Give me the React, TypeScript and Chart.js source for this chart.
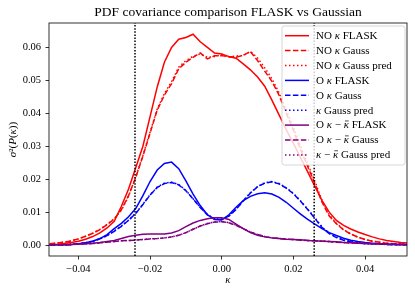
import React, { useEffect, useRef } from "react";
import { Chart, registerables } from "chart.js";

Chart.register(...registerables);

const chartTitle = "PDF covariance comparison FLASK vs Gaussian";
const xTicks = [-0.04, -0.02, 0.0, 0.02, 0.04];
const yTicks = [0.0, 0.01, 0.02, 0.03, 0.04, 0.05, 0.06];
const xRange = [-0.0482, 0.0517];
const yRange = [-0.0033, 0.0674];
const verticalLines = [-0.0242, 0.0258];

const kappa = [
  -0.048, -0.046, -0.044, -0.042, -0.04, -0.038, -0.036, -0.034, -0.032, -0.03,
  -0.028, -0.026, -0.024, -0.022, -0.02, -0.018, -0.016, -0.014, -0.012, -0.01,
  -0.008, -0.006, -0.004, -0.002, 0.0, 0.002, 0.004, 0.006, 0.008, 0.01,
  0.012, 0.014, 0.016, 0.018, 0.02, 0.022, 0.024, 0.026, 0.028, 0.03,
  0.032, 0.034, 0.036, 0.038, 0.04, 0.042, 0.044, 0.046, 0.048, 0.05,
  0.052,
];

const noFlask = [
  0.0002, 0.0003, 0.0005, 0.0008, 0.0012, 0.0018, 0.0026, 0.0037, 0.0052, 0.0072,
  0.0118, 0.0170, 0.0235, 0.0300, 0.0390, 0.0480, 0.0555, 0.0600, 0.0625, 0.0630,
  0.0640, 0.0617, 0.0600, 0.0583, 0.0580, 0.0572, 0.0567, 0.0550, 0.0532, 0.0510,
  0.0482, 0.0440, 0.0395, 0.0350, 0.0309, 0.0265, 0.0222, 0.0178, 0.0135, 0.0100,
  0.0075, 0.0060, 0.0049, 0.0040, 0.0032, 0.0025, 0.0019, 0.0014, 0.0011, 0.0008,
  0.0006,
];
const noGauss = [
  0.0004, 0.0006, 0.0009, 0.0013, 0.0019, 0.0027, 0.0036, 0.0047, 0.0062, 0.0079,
  0.0108, 0.0150, 0.0205, 0.0270, 0.0340, 0.0410, 0.0455, 0.0490, 0.0535, 0.0555,
  0.0570, 0.0583, 0.0565, 0.0575, 0.0575, 0.0572, 0.0570, 0.0576, 0.0587, 0.0560,
  0.0528, 0.0497, 0.0455, 0.0400, 0.0349, 0.0290, 0.0238, 0.0187, 0.0130, 0.0088,
  0.0065, 0.0046, 0.0034, 0.0024, 0.0017, 0.0012, 0.0009, 0.0006, 0.0004, 0.0003,
  0.0002,
];
const noGaussPred = [
  0.0004, 0.0006, 0.0009, 0.0013, 0.0019, 0.0027, 0.0036, 0.0048, 0.0063, 0.0080,
  0.0106, 0.0148, 0.0207, 0.0272, 0.0343, 0.0413, 0.0460, 0.0496, 0.0540, 0.0560,
  0.0573, 0.0580, 0.0570, 0.0572, 0.0578, 0.0570, 0.0574, 0.0575, 0.0588, 0.0568,
  0.0538, 0.0505, 0.0462, 0.0410, 0.0358, 0.0300, 0.0246, 0.0194, 0.0135, 0.0092,
  0.0066, 0.0047, 0.0034, 0.0024, 0.0017, 0.0012, 0.0009, 0.0006, 0.0004, 0.0003,
  0.0002,
];
const oFlask = [
  0.0000, 0.0001, 0.0001, 0.0002, 0.0004, 0.0007, 0.0012, 0.0020, 0.0032, 0.0050,
  0.0066, 0.0086, 0.0111, 0.0150, 0.0193, 0.0228, 0.0248, 0.0252, 0.0232, 0.0195,
  0.0155, 0.0120, 0.0092, 0.0078, 0.0076, 0.0092, 0.0115, 0.0135, 0.0148, 0.0156,
  0.0159, 0.0155, 0.0145, 0.0130, 0.0112, 0.0094, 0.0078, 0.0064, 0.0050, 0.0038,
  0.0029, 0.0021, 0.0015, 0.0011, 0.0008, 0.0006, 0.0004, 0.0003, 0.0002, 0.0002,
  0.0001,
];
const oGauss = [
  0.0000, 0.0001, 0.0001, 0.0002, 0.0004, 0.0007, 0.0012, 0.0019, 0.0029, 0.0042,
  0.0057, 0.0075, 0.0096, 0.0123, 0.0152, 0.0175, 0.0187, 0.0190, 0.0183, 0.0165,
  0.0140, 0.0114, 0.0092, 0.0079, 0.0078, 0.0088, 0.0108, 0.0134, 0.0158, 0.0177,
  0.0188, 0.0192, 0.0186, 0.0173, 0.0156, 0.0133, 0.0108, 0.0081, 0.0053, 0.0035,
  0.0023, 0.0015, 0.0010, 0.0007, 0.0005, 0.0004, 0.0003, 0.0002, 0.0001, 0.0001,
  0.0001,
];
const oGaussPred = [
  0.0000, 0.0001, 0.0001, 0.0002, 0.0004, 0.0007, 0.0012, 0.0019, 0.0029, 0.0043,
  0.0058, 0.0076, 0.0097, 0.0124, 0.0153, 0.0176, 0.0188, 0.0191, 0.0184, 0.0166,
  0.0141, 0.0115, 0.0093, 0.0080, 0.0079, 0.0089, 0.0109, 0.0135, 0.0159, 0.0178,
  0.0189, 0.0193, 0.0187, 0.0174, 0.0157, 0.0134, 0.0109, 0.0083, 0.0055, 0.0036,
  0.0024, 0.0016, 0.0011, 0.0007, 0.0005, 0.0004, 0.0003, 0.0002, 0.0001, 0.0001,
  0.0001,
];
const diffFlask = [
  0.0000, 0.0001, 0.0001, 0.0002, 0.0003, 0.0004, 0.0006, 0.0008, 0.0011, 0.0014,
  0.0020, 0.0026, 0.0030, 0.0033, 0.0034, 0.0034, 0.0034, 0.0037, 0.0044, 0.0056,
  0.0067, 0.0075, 0.0080, 0.0083, 0.0083, 0.0078, 0.0064, 0.0050, 0.0038, 0.0030,
  0.0025, 0.0022, 0.0020, 0.0018, 0.0017, 0.0016, 0.0014, 0.0013, 0.0012, 0.0011,
  0.0010, 0.0008, 0.0007, 0.0006, 0.0005, 0.0004, 0.0004, 0.0003, 0.0003, 0.0002,
  0.0002,
];
const diffGauss = [
  0.0000, 0.0001, 0.0001, 0.0002, 0.0003, 0.0004, 0.0005, 0.0007, 0.0009, 0.0011,
  0.0013, 0.0014, 0.0015, 0.0017, 0.0019, 0.0020, 0.0022, 0.0025, 0.0030, 0.0038,
  0.0048, 0.0058, 0.0065, 0.0070, 0.0071, 0.0068, 0.0060, 0.0050, 0.0040, 0.0032,
  0.0026, 0.0022, 0.0020, 0.0018, 0.0017, 0.0015, 0.0014, 0.0013, 0.0012, 0.0011,
  0.0009, 0.0008, 0.0007, 0.0006, 0.0005, 0.0004, 0.0004, 0.0003, 0.0003, 0.0002,
  0.0002,
];
const diffGaussPred = [
  0.0000, 0.0001, 0.0001, 0.0002, 0.0003, 0.0004, 0.0005, 0.0007, 0.0009, 0.0011,
  0.0013, 0.0014, 0.0015, 0.0017, 0.0019, 0.0020, 0.0022, 0.0025, 0.0030, 0.0038,
  0.0048, 0.0058, 0.0066, 0.0070, 0.0072, 0.0068, 0.0061, 0.0050, 0.0040, 0.0032,
  0.0026, 0.0022, 0.0020, 0.0018, 0.0017, 0.0015, 0.0014, 0.0013, 0.0012, 0.0011,
  0.0009, 0.0008, 0.0007, 0.0006, 0.0005, 0.0004, 0.0004, 0.0003, 0.0003, 0.0002,
  0.0002,
];

const seriesLabels = [
  "NO κ FLASK",
  "NO κ Gauss",
  "NO κ Gauss pred",
  "O κ FLASK",
  "O κ Gauss",
  "κ Gauss pred",
  "O κ − κ\u0304 FLASK",
  "O κ − κ\u0304 Gauss",
  "κ − κ\u0304 Gauss pred",
];
const seriesValues = [noFlask, noGauss, noGaussPred, oFlask, oGauss, oGaussPred, diffFlask, diffGauss, diffGaussPred];
const seriesColors = ["#ff0000", "#ff0000", "#ff0000", "#0000ff", "#0000ff", "#0000ff", "#800080", "#800080", "#800080"];
const seriesStyles = ["solid", "dashed", "dotted", "solid", "dashed", "dotted", "solid", "dashed", "dotted"];

const SERIF = "'Liberation Serif', 'DejaVu Serif', serif";
const LW = 1.5;
const dashFor = (s: string) => (s === "dashed" ? [5.5, 2.4] : s === "dotted" ? [1.5, 2.5] : []);

const isMath = (c: string) => c === "κ" || c === "σ" || c === "P";

// splits text so that κ / κ̄ / σ / P are drawn italic (κ̄ gets a drawn bar)
function segmentText(text: string) {
  const segs: { t: string; it: boolean; bar: boolean }[] = [];
  let i = 0;
  while (i < text.length) {
    const ch = text[i];
    if (isMath(ch)) {
      let bar = false;
      if (text[i + 1] === "\u0304") {
        bar = true;
        i++;
      }
      segs.push({ t: ch, it: true, bar });
      i++;
    } else {
      let t = "";
      while (i < text.length && !isMath(text[i])) {
        t += text[i];
        i++;
      }
      segs.push({ t, it: false, bar: false });
    }
  }
  return segs;
}

function drawMixed(ctx: CanvasRenderingContext2D, text: string, x: number, y: number, size: number, align: "left" | "center") {
  const segs = segmentText(text);
  const fontFor = (it: boolean) => `${it ? "italic " : ""}${size}px ${SERIF}`;
  let total = 0;
  const widths = segs.map((s) => {
    ctx.font = fontFor(s.it);
    const w = ctx.measureText(s.t).width;
    total += w;
    return w;
  });
  let cx = align === "center" ? x - total / 2 : x;
  ctx.textAlign = "left";
  ctx.textBaseline = "middle";
  segs.forEach((s, k) => {
    ctx.font = fontFor(s.it);
    ctx.fillText(s.t, cx, y);
    if (s.bar) {
      ctx.save();
      ctx.strokeStyle = ctx.fillStyle as string;
      ctx.lineWidth = 0.7;
      ctx.setLineDash([]);
      ctx.beginPath();
      const by = y - size * 0.42;
      ctx.moveTo(cx + widths[k] * 0.25, by);
      ctx.lineTo(cx + widths[k] * 0.95, by);
      ctx.stroke();
      ctx.restore();
    }
    cx += widths[k];
  });
}

const decorPlugin = {
  id: "decor",
  afterDatasetsDraw(chart: any) {
    const { ctx, chartArea: a, scales } = chart;
    const xs = scales.x;
    const ys = scales.y;
    ctx.save();
    // vertical dotted lines
    ctx.strokeStyle = "#000";
    ctx.lineWidth = 1.5;
    ctx.setLineDash([1.5, 1.6]);
    verticalLines.forEach((v) => {
      const px = xs.getPixelForValue(v);
      ctx.beginPath();
      ctx.moveTo(px, ys.getPixelForValue(yRange[0]));
      ctx.lineTo(px, ys.getPixelForValue(yRange[1]));
      ctx.stroke();
    });
    ctx.setLineDash([]);
    // frame
    ctx.lineWidth = 0.8;
    ctx.strokeRect(a.left, a.top, a.right - a.left, a.bottom - a.top);

    // legend
    const lx = 282;
    const ly = 26;
    const lw = 123;
    const lh = 139;
    ctx.beginPath();
    if ((ctx as any).roundRect) (ctx as any).roundRect(lx, ly, lw, lh, 2.5);
    else ctx.rect(lx, ly, lw, lh);
    ctx.fillStyle = "rgba(255,255,255,0.8)";
    ctx.fill();
    ctx.strokeStyle = "#cccccc";
    ctx.lineWidth = 0.8;
    ctx.stroke();
    seriesLabels.forEach((label, i) => {
      const yy = 35.7 + i * 14.9;
      ctx.strokeStyle = seriesColors[i];
      ctx.lineWidth = LW;
      ctx.setLineDash(dashFor(seriesStyles[i]));
      ctx.beginPath();
      ctx.moveTo(285, yy);
      ctx.lineTo(309, yy);
      ctx.stroke();
      ctx.setLineDash([]);
      ctx.fillStyle = "#000";
      drawMixed(ctx, label, 316, yy + 0.5, 11, "left");
    });

    // title
    ctx.fillStyle = "#000";
    ctx.font = `13.5px ${SERIF}`;
    ctx.textAlign = "center";
    ctx.textBaseline = "middle";
    ctx.fillText(chartTitle, (a.left + a.right) / 2, 12.5);
    // x label
    drawMixed(ctx, "κ", (a.left + a.right) / 2, 280, 11, "center");
    // y label
    ctx.save();
    ctx.translate(13, (a.top + a.bottom) / 2);
    ctx.rotate(-Math.PI / 2);
    drawMixed(ctx, "σ²(P(κ))", 0, 0, 11, "center");
    ctx.restore();
    ctx.restore();
  },
};

const fmt = (v: number) => {
  const s = Math.abs(v).toFixed(2);
  return v < -1e-9 ? "\u2212" + s : s;
};

export default function App() {
  const ref = useRef<HTMLCanvasElement | null>(null);
  useEffect(() => {
    if (!ref.current) return;
    const datasets = seriesValues.map((vals, i) => ({
      label: seriesLabels[i],
      data: kappa.map((k, j) => ({ x: k, y: vals[j] })),
      borderColor: seriesColors[i],
      borderWidth: LW,
      borderDash: dashFor(seriesStyles[i]),
      pointRadius: 0,
      fill: false,
      tension: 0,
      order: 100 - i,
    }));
    const chart = new Chart(ref.current, {
      type: "line",
      data: { datasets },
      plugins: [decorPlugin],
      options: {
        animation: false,
        responsive: false,
        events: [],
        layout: { padding: { top: 23, right: 8, left: 0, bottom: 0 } },
        plugins: { legend: { display: false }, tooltip: { enabled: false }, title: { display: false } },
        scales: {
          x: {
            type: "linear",
            min: xRange[0],
            max: xRange[1],
            afterBuildTicks: (s: any) => {
              s.ticks = xTicks.map((v) => ({ value: v }));
            },
            afterFit: (s: any) => {
              s.height = 38;
            },
            grid: { display: true, drawOnChartArea: false, drawTicks: true, tickLength: 3.5, color: "#000", lineWidth: 0.8 },
            border: { display: false },
            ticks: {
              color: "#000",
              font: { family: SERIF, size: 10.5 },
              padding: 3,
              maxRotation: 0,
              autoSkip: false,
              callback: (v: any) => fmt(Number(v)),
            },
          },
          y: {
            type: "linear",
            min: yRange[0],
            max: yRange[1],
            afterBuildTicks: (s: any) => {
              s.ticks = yTicks.map((v) => ({ value: v }));
            },
            afterFit: (s: any) => {
              s.width = 49;
            },
            grid: { display: true, drawOnChartArea: false, drawTicks: true, tickLength: 3.5, color: "#000", lineWidth: 0.8 },
            border: { display: false },
            ticks: {
              color: "#000",
              font: { family: SERIF, size: 10.5 },
              padding: 4.5,
              autoSkip: false,
              callback: (v: any) => fmt(Number(v)),
            },
          },
        },
      },
    });
    return () => chart.destroy();
  }, []);
  return (
    <div style={{ position: "absolute", left: 0, top: 0, width: 415, height: 294, background: "#fff" }}>
      <canvas ref={ref} width={415} height={294} style={{ display: "block", width: 415, height: 294 }} />
    </div>
  );
}
